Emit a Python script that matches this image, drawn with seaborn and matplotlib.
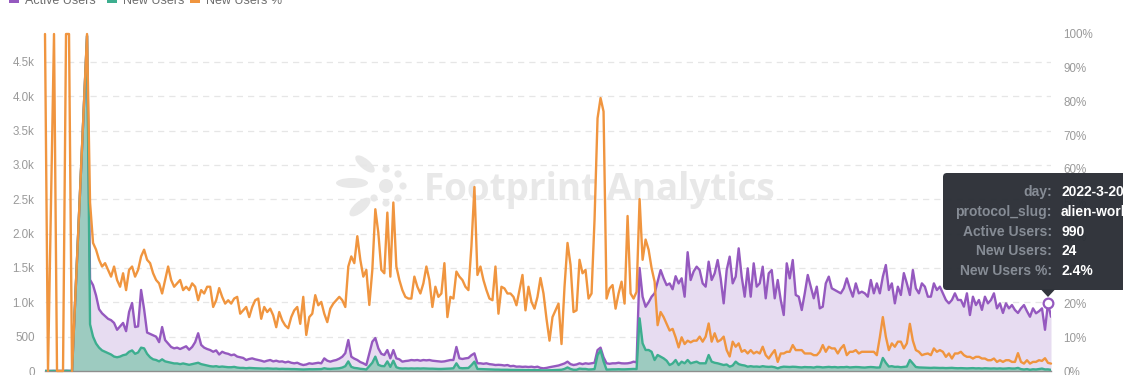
import numpy as np
import pandas as pd
import matplotlib
matplotlib.use("Agg")
import matplotlib.pyplot as plt
import seaborn as sns
from matplotlib.patches import FancyBboxPatch, Rectangle, Polygon, Ellipse, Circle

# ---------------- data ----------------
start_date = "2021-04-20"
end_date = "2022-03-21"
missing_day_index = [2, 10, 11, 12, 13]

active_users = [
    1, 1, 2, 1, 0, 1, 3, 2, 1, 4880,
    1330, 1250, 1100, 900, 840, 800, 760, 740, 700, 600,
    650, 700, 580, 860, 990, 640, 650, 1180, 900, 560,
    540, 520, 500, 420, 640, 450, 400, 350, 330, 340,
    320, 340, 360, 310, 350, 420, 550, 380, 340, 320,
    305, 280, 300, 240, 280, 260, 250, 230, 240, 210,
    200, 190, 160, 175, 184, 170, 160, 150, 136, 150,
    160, 140, 150, 136, 140, 125, 136, 120, 112, 120,
    100, 87, 95, 112, 105, 112, 120, 112, 184, 150,
    136, 150, 160, 180, 208, 260, 451, 208, 180, 160,
    130, 112, 87, 257, 427, 480, 330, 250, 233, 305,
    184, 305, 184, 170, 136, 145, 150, 160, 155, 160,
    150, 160, 155, 160, 150, 145, 140, 136, 140, 150,
    160, 160, 350, 184, 175, 184, 190, 230, 257, 112,
    112, 105, 112, 100, 95, 87, 90, 87, 80, 87,
    70, 75, 63, 65, 60, 63, 58, 63, 55, 63,
    45, 39, 45, 55, 63, 70, 80, 95, 110, 136,
    100, 87, 95, 112, 100, 112, 105, 112, 120, 305,
    340, 200, 112, 105, 112, 112, 120, 112, 110, 112,
    120, 136, 125, 1500, 1082, 935, 1000, 1082, 1131, 1300,
    1470, 1350, 1250, 1275, 1190, 1380, 1275, 1350, 1082, 1730,
    1325, 1450, 1519, 1470, 1276, 1228, 1592, 1325, 1422, 1616,
    1349, 985, 1470, 1665, 1276, 1374, 1786, 1374, 1082, 1495,
    1082, 1568, 1228, 1276, 1519, 1058, 1422, 1470, 1058, 1325,
    1034, 815, 1568, 1349, 1616, 1107, 1082, 888, 1131, 1398,
    1228, 1058, 1228, 912, 937, 1276, 1374, 1204, 1179, 1155,
    1131, 1204, 1349, 1204, 1082, 1276, 1131, 1155, 1131, 1082,
    1325, 1131, 1276, 1131, 1374, 1543, 1179, 1276, 985, 1228,
    1107, 1425, 1276, 1107, 1470, 1204, 1131, 1276, 1228, 1082,
    1082, 1276, 1179, 1228, 1131, 1034, 985, 1034, 1131, 1034,
    1034, 937, 1131, 815, 1082, 960, 1034, 890, 1082, 985,
    1034, 1131, 912, 985, 845, 985, 912, 960, 888, 845,
    912, 960, 870, 790, 912, 840, 870, 912, 600, 990,
    790,
]

new_users = [
    1, 0, 2, 0, 0, 0, 3, 2, 0, 4880,
    680, 500, 400, 340, 300, 280, 260, 240, 210, 200,
    210, 230, 240, 280, 300, 250, 270, 340, 330, 250,
    200, 170, 160, 140, 170, 140, 130, 120, 110, 110,
    100, 110, 100, 90, 100, 110, 120, 100, 90, 80,
    70, 65, 70, 60, 65, 60, 55, 55, 60, 50,
    45, 45, 40, 45, 42, 40, 38, 36, 35, 38,
    35, 33, 35, 30, 32, 30, 30, 28, 28, 26,
    24, 22, 24, 26, 25, 26, 28, 28, 40, 32,
    30, 34, 36, 40, 50, 70, 140, 60, 45, 40,
    32, 28, 22, 70, 120, 209, 90, 73, 70, 140,
    60, 150, 55, 40, 36, 38, 36, 38, 36, 38,
    36, 38, 36, 34, 34, 32, 30, 30, 32, 34,
    36, 40, 112, 45, 40, 42, 44, 85, 136, 30,
    28, 26, 25, 24, 22, 20, 20, 18, 18, 18,
    16, 16, 15, 15, 14, 14, 13, 13, 12, 13,
    10, 8, 9, 10, 12, 14, 15, 18, 30, 52,
    30, 18, 18, 35, 30, 30, 22, 24, 28, 230,
    303, 140, 20, 22, 24, 24, 26, 24, 24, 26,
    28, 30, 28, 767, 403, 306, 306, 280, 160, 233,
    209, 184, 150, 87, 110, 160, 87, 136, 112, 160,
    112, 125, 136, 112, 112, 112, 233, 136, 120, 112,
    100, 87, 95, 63, 80, 136, 100, 87, 80, 63,
    70, 63, 65, 60, 70, 63, 60, 63, 55, 39,
    55, 63, 60, 58, 62, 60, 55, 52, 58, 55,
    55, 50, 60, 58, 52, 56, 60, 55, 58, 52,
    56, 55, 60, 52, 55, 58, 56, 52, 50, 55,
    58, 55, 50, 52, 190, 120, 65, 70, 60, 62,
    55, 60, 65, 160, 110, 58, 52, 50, 48, 46,
    45, 48, 46, 44, 45, 42, 44, 46, 42, 40,
    42, 40, 38, 40, 42, 38, 40, 36, 40, 38,
    36, 38, 35, 38, 34, 36, 40, 36, 36, 45,
    28, 22, 28, 18, 25, 22, 28, 35, 23, 24,
    17,
]

new_users_pct = [
    100, 0, 100, 0, 0, 0, 100, 100, 0, 100,
    50, 38, 36, 33, 31, 32, 30, 28, 31, 27,
    25, 29, 24, 30, 31, 28, 30, 34, 36, 33,
    32, 29, 27, 26, 23, 27, 31, 27, 25, 26,
    27, 24, 25, 24, 26, 25, 21, 24, 23, 25,
    25, 19, 21, 24.6, 22, 20, 21, 20, 21.5, 22,
    17, 18, 19, 16, 19, 21, 21.5, 15.5, 19, 17.5,
    18.5, 16.5, 13, 17.5, 15, 13.5, 12.7, 16, 18, 19,
    14, 22, 10.7, 16, 17, 22.5, 19.5, 20.5, 17, 14.5,
    18.5, 20, 21, 22, 21, 19, 31, 34, 32, 40,
    33, 28, 30, 19.6, 30, 48, 41, 30, 29, 47,
    28, 50, 31, 27, 24, 22, 21.5, 21.5, 28, 25,
    23, 26, 31, 27, 19, 25, 22, 23, 32, 16,
    22, 21.5, 29.5, 28, 27, 25, 24, 37, 54.6, 28.5,
    31, 27, 24, 21.5, 21, 31, 17, 25, 24.5, 23,
    23, 22, 19.5, 24, 28.5, 18, 25, 20.5, 18.5, 22,
    27.6, 23, 15.5, 9, 16, 18, 20, 8, 25, 38,
    31.5, 17.5, 18, 33, 29, 30, 21.5, 23, 45, 75,
    81, 77, 21.5, 24.5, 25.5, 18.5, 23, 26.5, 20, 46,
    23, 21.5, 23.5, 51, 33, 39, 36, 30.5, 26.5, 13.6,
    17.5, 16, 14, 12, 12.5, 10, 7, 10, 8, 9,
    8.5, 9, 9, 10.2, 8.7, 10.2, 14.1, 8.7, 11.2, 8.7,
    9.2, 10.2, 6.2, 4.3, 8.7, 7.2, 8.2, 5.7, 6.2, 5.2,
    6.2, 5.2, 5.7, 5.2, 7.2, 4.7, 3.7, 5, 6.2, 2.7,
    5.2, 5.2, 5.7, 5.7, 7.7, 6.2, 6.2, 6.2, 5.2, 5.2,
    5.2, 4.7, 4.7, 5.7, 7.7, 5.7, 7.2, 6.7, 6.7, 5.2,
    6.7, 7.7, 4.7, 5.7, 5.7, 6.2, 5.2, 5.7, 5.7, 5.7,
    5.7, 5.7, 4.7, 10, 16, 10.2, 6.2, 8.2, 7.2, 8.7,
    8.7, 6.7, 8.2, 14, 9, 6.2, 5.7, 4.7, 5, 5.2,
    4.7, 6.7, 5.7, 6.2, 5.7, 4.2, 5.2, 3.7, 5.2, 5.2,
    5.7, 4.7, 4.2, 4.2, 3.7, 4.2, 4.2, 3.7, 3.7, 3.2,
    3.2, 3.7, 2.7, 3.2, 2.7, 3.2, 3.2, 2.7, 2.7, 5.3,
    2.7, 2.2, 3.2, 2.2, 2.7, 2.7, 3.2, 3.0, 3.8, 2.4,
    2.2,
]

series_names = ["Active Users", "New Users", "New Users %"]
left_ticks = [0, 500, 1000, 1500, 2000, 2500, 3000, 3500, 4000, 4500]
left_tick_labels = ["0", "500", "1.0k", "1.5k", "2.0k", "2.5k", "3.0k", "3.5k", "4.0k", "4.5k"]
right_ticks = [0, 10, 20, 30, 40, 50, 60, 70, 80, 90, 100]
right_tick_labels = [f"{t}%" for t in right_ticks]
tooltip_day = "2022-03-20"
protocol_slug = "alien-worlds"

# ---------------- style ----------------
sns.set_theme(style="white")
plt.rcParams['font.family'] = ['Liberation Sans', 'DejaVu Sans']

purple = "#9559bf"
purple_fill = "#e7dcf1"
green = "#3dae8f"
green_fill = "#9dcbc0"
orange = "#f0953f"
tick_color = "#9a9a9a"

all_days = pd.date_range(start_date, end_date, freq="D")
days = all_days.delete(missing_day_index)
df = pd.DataFrame({"day": days, "active": active_users,
                   "new": new_users, "pct": new_users_pct})

W, H = 1123, 375
fig = plt.figure(figsize=(W / 100, H / 100), dpi=100)
fig.patch.set_facecolor("white")

# background layer (watermark)
bg = fig.add_axes([0, 0, 1, 1])
bg.set_xlim(0, W); bg.set_ylim(H, 0); bg.axis("off"); bg.set_zorder(0)
wm = "#e8e8e8"
bg.text(424, 190, "Footprint Analytics", fontsize=26.5, fontweight="bold",
        color=wm, ha="left", va="center", family=["Open Sans", "DejaVu Sans"])
bg.add_patch(Circle((386, 186), 7, color=wm, lw=0))
for ang in np.deg2rad([-90, -45, 0, 45, 90, 135]):
    bg.add_patch(Circle((386 + 17 * np.cos(ang), 186 + 17 * np.sin(ang)), 3.6, color=wm, lw=0))
bg.add_patch(Ellipse((365, 164), 24, 10, angle=40, color=wm, lw=0))
bg.add_patch(Ellipse((352, 183), 32, 10, angle=0, color=wm, lw=0))
bg.add_patch(Ellipse((360, 207), 26, 11, angle=-40, color=wm, lw=0))

# main axes
ax = fig.add_axes([45 / W, 1 - 371 / H, (1051 - 45) / W, (371 - 34) / H])
ax.set_zorder(1)
ax.patch.set_visible(False)
ax.fill_between(df["day"].values, df["active"].values, color=purple_fill, lw=0, zorder=1)
ax.fill_between(df["day"].values, df["new"].values, color=green_fill, lw=0, zorder=1.5)
sns.lineplot(data=df, x="day", y="active", ax=ax, color=purple, lw=1.7,
             estimator=None, zorder=3)
sns.lineplot(data=df, x="day", y="new", ax=ax, color=green, lw=1.7,
             estimator=None, zorder=3.5)
ax.set_xlim(days[0], days[-1])
ax.set_ylim(0, 4907)
ax.set_yticks(left_ticks)
ax.set_yticklabels(left_tick_labels)
ax.tick_params(axis="y", length=0, pad=7.5, labelsize=8.4, labelcolor=tick_color)
ax.tick_params(axis="x", bottom=False, labelbottom=False)
ax.set_xlabel(""); ax.set_ylabel("")
ax.yaxis.grid(True, color="#e6e6e6", ls=(0, (5, 4)), lw=0.9)
ax.xaxis.grid(False)
ax.set_axisbelow(True)
for s in ["left", "right", "top"]:
    ax.spines[s].set_visible(False)
ax.spines["bottom"].set_color("#8e8e8e")
ax.spines["bottom"].set_linewidth(1.0)

ax2 = ax.twinx()
ax2.set_zorder(2)
ax2.patch.set_visible(False)
sns.lineplot(data=df, x="day", y="pct", ax=ax2, color=orange, lw=1.7, estimator=None)
for ln in ax2.lines:
    ln.set_clip_on(False)
ax2.set_ylim(0, 100)
ax2.set_yticks(right_ticks)
ax2.set_yticklabels(right_tick_labels)
ax2.tick_params(axis="y", length=0, pad=9, labelsize=8.4, labelcolor=tick_color)
ax2.tick_params(axis="x", bottom=False, labelbottom=False)
ax2.set_xlabel(""); ax2.set_ylabel("")
ax2.grid(False)
for s in ax2.spines.values():
    s.set_visible(False)

# highlighted point
row = df[df["day"] == pd.Timestamp(tooltip_day)].iloc[0]
ax2.plot([row["day"]], [row["active"] / 4907 * 100], "o", ms=7, mfc="white",
         mec=purple, mew=1.6, zorder=6, clip_on=False)

# overlay: legend + tooltip
ov = fig.add_axes([0, 0, 1, 1])
ov.set_xlim(0, W); ov.set_ylim(H, 0); ov.axis("off"); ov.set_zorder(3)
ov.patch.set_visible(False)
leg_colors = [purple, green, orange]
leg_x = [9, 107, 190]
for name, c, x0 in zip(series_names, leg_colors, leg_x):
    ov.add_patch(Rectangle((x0, -7), 10, 10, color=c, lw=0, clip_on=False))
    ov.text(x0 + 16, 3.5, name, fontsize=9.0, color="#6e6e6e", va="baseline", ha="left")

ov.add_patch(FancyBboxPatch((943, 173), 320, 117,
                            boxstyle="round,pad=0,rounding_size=4",
                            fc="#2a2e35", ec="none", alpha=0.96))
ov.add_patch(Polygon([(1041, 289.5), (1055, 289.5), (1048, 297)], closed=True,
                     fc="#2a2e35", ec="none", alpha=0.96))
d = pd.Timestamp(tooltip_day)
tip_labels = ["day:", "protocol_slug:", "Active Users:", "New Users:", "New Users %:"]
tip_values = [f"{d.year}-{d.month}-{d.day}", protocol_slug, f"{int(row['active'])}",
              f"{int(row['new'])}", f"{row['pct']:.1f}%"]
for k, (lab, val) in enumerate(zip(tip_labels, tip_values)):
    yy = 192 + k * 19.8
    ov.text(1052, yy, lab, fontsize=10, fontweight="bold", color="#868c95",
            ha="right", va="center")
    ov.text(1061, yy, val, fontsize=10, fontweight="bold", color="white",
            ha="left", va="center")

fig.savefig("out.png", dpi=100, facecolor="white")
